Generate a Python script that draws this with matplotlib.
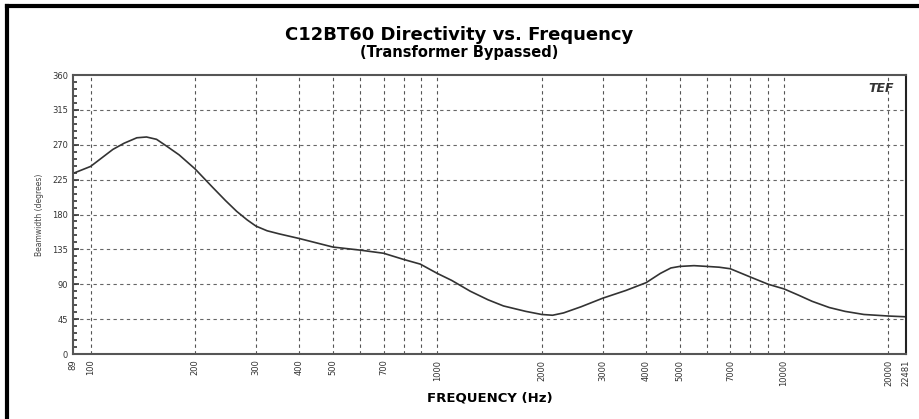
import matplotlib
matplotlib.use("Agg")
import matplotlib.pyplot as plt
from matplotlib.ticker import FixedLocator, NullFormatter
from matplotlib.lines import Line2D

# Data
freq_hz = [89, 100, 116, 125, 136, 145, 155, 166, 180, 200, 225, 245, 264, 283, 300, 323, 350,
           400, 500, 600, 700, 800, 893, 1000, 1100, 1245, 1400, 1552, 1800, 2000, 2150,
           2313, 2600, 3000, 3500, 4000, 4400, 4717, 5000, 5500, 6000, 6500, 7000, 8030,
           9000, 10000, 11000, 12050, 13500, 15000, 17000, 20000, 22481]
beamwidth_deg = [233, 242, 264, 272, 279, 280, 277, 268, 257, 239, 215, 198, 184, 173, 165, 159,
                 155, 149, 138, 134, 130, 122, 116, 104, 95, 81, 70, 62, 55, 51, 50,
                 53, 61, 72, 82, 92, 104, 111, 113, 114, 113, 112, 110, 99,
                 90, 84, 76, 68, 60, 55, 51, 49, 48]

x_tick_vals = [89, 100, 200, 300, 400, 500, 700, 1000, 2000, 3000, 4000, 5000, 7000,
               10000, 20000, 22481]
x_tick_labels = ["89", "100", "200", "300", "400", "500", "700", "1000", "2000", "3000",
                 "4000", "5000", "7000", "10000", "20000", "22481"]
x_grid_vals = [100, 200, 300, 400, 500, 600, 700, 800, 900, 1000, 2000, 3000, 4000, 5000,
               6000, 7000, 8000, 9000, 10000, 20000]
y_tick_vals = [0, 45, 90, 135, 180, 225, 270, 315, 360]

fig = plt.figure(figsize=(9.19, 4.19), dpi=100)
W, H = 919, 419
ax = fig.add_axes([73 / W, 1 - 354 / H, (906 - 73) / W, (354 - 75) / H])

ax.plot(freq_hz, beamwidth_deg, color="#333333", lw=1.2, solid_joinstyle="round")
ax.set_xscale("log")
ax.set_xlim(89, 22481)
ax.set_ylim(0, 360)

ax.xaxis.set_major_locator(FixedLocator(x_tick_vals))
ax.xaxis.set_minor_locator(FixedLocator([]))
ax.set_xticklabels(x_tick_labels, rotation=90, fontsize=6, color="#333333")
ax.xaxis.set_minor_formatter(NullFormatter())
ax.tick_params(axis="x", length=0, pad=4)

ax.yaxis.set_major_locator(FixedLocator(y_tick_vals))
ax.yaxis.set_minor_locator(FixedLocator(list(range(0, 361, 9))))
ax.set_yticklabels([str(v) for v in y_tick_vals], fontsize=6, color="#333333")
ax.tick_params(axis="y", which="major", length=4, width=1.2, color="#333333", direction="in")
ax.tick_params(axis="y", which="minor", length=3, width=1.2, color="#333333", direction="in")

for f in x_grid_vals:
    ax.axvline(f, color="#555555", lw=0.8, ls=(0, (3, 3)), zorder=0)
for v in y_tick_vals[1:-1]:
    ax.axhline(v, color="#666666", lw=0.8, ls=(0, (3, 3)), zorder=0)

for s in ["left", "bottom", "top"]:
    ax.spines[s].set_color("#555555")
    ax.spines[s].set_linewidth(1.5)
ax.spines["right"].set_color("#222222")
ax.spines["right"].set_linewidth(1.5)

ax.set_ylabel("Beamwidth (degrees)", fontsize=5.5, color="#444444", labelpad=6)
ax.set_xlabel("FREQUENCY (Hz)", fontsize=9.5, fontweight="bold", labelpad=4,
              family="DejaVu Sans")

fig.text(0.5, 1 - 35 / H, "C12BT60 Directivity vs. Frequency", ha="center", va="center",
         fontsize=13, fontweight="bold", family="DejaVu Sans")
fig.text(0.5, 1 - 52 / H, "(Transformer Bypassed)", ha="center", va="center",
         fontsize=10.5, fontweight="bold", family="DejaVu Sans")

# logo
ax.text(0.985, 0.975, "TEF", transform=ax.transAxes, ha="right", va="top",
        fontsize=9, fontweight="bold", style="italic", color="#333333")

# outer frame (top and left only)
fig.add_artist(Line2D([7 / W, 1], [1 - 6 / H, 1 - 6 / H], color="black", lw=3,
                      transform=fig.transFigure))
fig.add_artist(Line2D([7 / W, 7 / W], [0, 1 - 6 / H], color="black", lw=3,
                      transform=fig.transFigure))

fig.savefig("out.png", dpi=100)
